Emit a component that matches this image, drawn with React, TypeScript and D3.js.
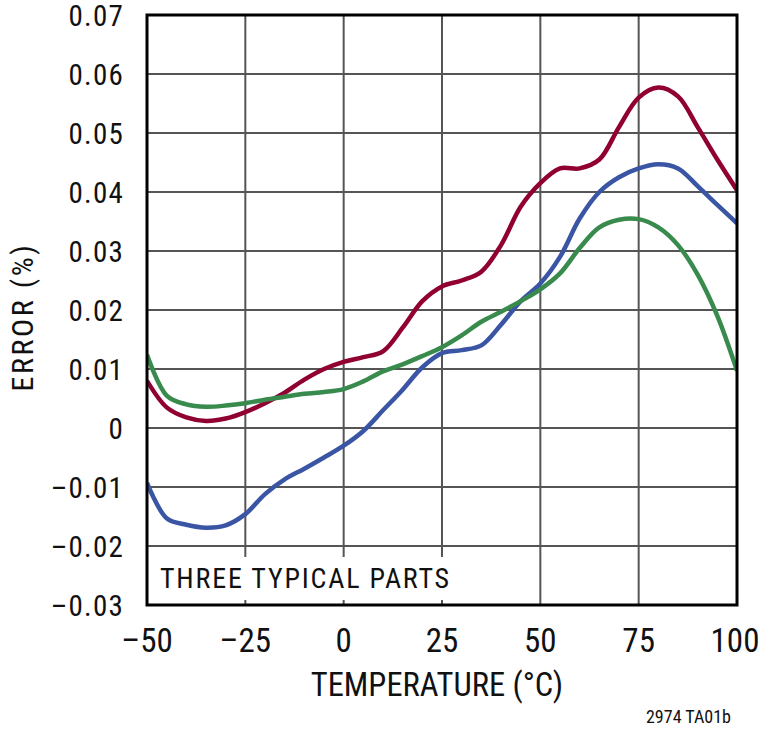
import React from "react";
import * as d3 from "d3";

const temps = [-50, -45, -40, -35, -30, -25, -20, -15, -10, -5, 0, 5, 10, 15, 20, 25, 30, 35, 40, 45, 50, 55, 60, 65, 70, 75, 80, 85, 90, 95, 100];

const redPart = [0.008, 0.0035, 0.0018, 0.0012, 0.0016, 0.0027, 0.0042, 0.006, 0.0082, 0.01, 0.0112, 0.012, 0.013, 0.017, 0.0215, 0.024, 0.025, 0.0265, 0.031, 0.0375, 0.0415, 0.044, 0.044, 0.0455, 0.051, 0.056, 0.0577, 0.0562, 0.051, 0.0455, 0.0403];

const bluePart = [-0.0093, -0.0153, -0.0164, -0.0169, -0.0165, -0.0146, -0.0112, -0.0087, -0.0069, -0.005, -0.003, -0.0005, 0.003, 0.0065, 0.0103, 0.0127, 0.0132, 0.014, 0.0175, 0.0215, 0.0245, 0.029, 0.0355, 0.04, 0.0425, 0.044, 0.0447, 0.044, 0.041, 0.0378, 0.0347];

const greenPart = [0.0124, 0.0055, 0.004, 0.0036, 0.0038, 0.0042, 0.0048, 0.0053, 0.0058, 0.0061, 0.0066, 0.0079, 0.0096, 0.0108, 0.0122, 0.0137, 0.0157, 0.018, 0.0197, 0.0215, 0.0235, 0.0262, 0.0305, 0.034, 0.0353, 0.0354, 0.034, 0.031, 0.026, 0.019, 0.0097];

const xTicks = [-50, -25, 0, 25, 50, 75, 100];
const yTicks = [-0.03, -0.02, -0.01, 0, 0.01, 0.02, 0.03, 0.04, 0.05, 0.06, 0.07];

const seriesList = [
  { name: "red", values: redPart, color: "#900030" },
  { name: "blue", values: bluePart, color: "#3a55a4" },
  { name: "green", values: greenPart, color: "#388a4d" },
];

const FONT = "'Roboto Condensed', 'Liberation Sans Narrow', sans-serif";
const DASH = "\u2013";

const fmtX = (v: number) => (v < 0 ? DASH + Math.abs(v) : String(v));
const fmtY = (v: number) => {
  const s = Math.abs(v).toFixed(2);
  if (Math.abs(v) < 1e-9) return "0";
  return v < 0 ? DASH + s : s;
};

export default function App() {
  const W = 760, H = 729;
  const L = 147, R = 737, T = 15, B = 605;
  const x = d3.scaleLinear().domain([-50, 100]).range([L, R]);
  const y = d3.scaleLinear().domain([-0.03, 0.07]).range([B, T]);

  const line = d3
    .line<number>()
    .x((_, i) => x(temps[i]))
    .y((d) => y(d))
    .curve(d3.curveCatmullRom.alpha(0.5));

  const boxRight = 458;

  return (
    <svg width={W} height={H} style={{ position: "absolute", left: 0, top: 0, background: "#fff" }}>
      <defs>
        <clipPath id="plotclip">
          <rect x={L} y={T} width={R - L} height={B - T} />
        </clipPath>
      </defs>
      <rect x={0} y={0} width={W} height={H} fill="#fff" />
      {xTicks.map((t) => (
        <line key={"gx" + t} x1={x(t)} x2={x(t)} y1={T} y2={B} stroke="#555" strokeWidth={2} />
      ))}
      {yTicks.map((t) => (
        <line key={"gy" + t} x1={L} x2={R} y1={y(t)} y2={y(t)} stroke="#555" strokeWidth={2} />
      ))}
      <rect x={L + 2} y={y(-0.02) + 11} width={boxRight - L} height={B - 5 - (y(-0.02) + 11)} fill="#fff" />
      <text x={160} y={588} fontFamily={FONT} fontSize={28} letterSpacing={1.8} fill="#111">
        THREE TYPICAL PARTS
      </text>
      <g clipPath="url(#plotclip)">
        {seriesList.map((s) => (
          <path key={s.name} d={line(s.values) || ""} fill="none" stroke={s.color} strokeWidth={4.5} />
        ))}
      </g>
      <rect x={L} y={T} width={R - L} height={B - T} fill="none" stroke="#000" strokeWidth={3} />
      {yTicks.map((t) => (
        <text key={"ly" + t} x={124} y={y(t) + 10.5} textAnchor="end" fontFamily={FONT} fontSize={29} letterSpacing={1.2} fill="#111">
          {fmtY(t)}
        </text>
      ))}
      {xTicks.map((t) => (
        <text key={"lx" + t} x={t === 100 ? x(t) - 2 : x(t)} y={652} textAnchor="middle" fontFamily={FONT} fontSize={33} fill="#111">
          {fmtX(t)}
        </text>
      ))}
      <text x={437} y={696} textAnchor="middle" fontFamily={FONT} fontSize={32.5} fill="#111">
        TEMPERATURE (°C)
      </text>
      <text
        transform={`translate(33, 317) rotate(-90)`}
        textAnchor="middle"
        fontFamily={FONT}
        fontSize={30}
        letterSpacing={2.6}
        fill="#111"
      >
        ERROR (%)
      </text>
      <text x={731} y={723} textAnchor="end" fontFamily={FONT} fontSize={18} fill="#111">
        2974 TA01b
      </text>
    </svg>
  );
}
